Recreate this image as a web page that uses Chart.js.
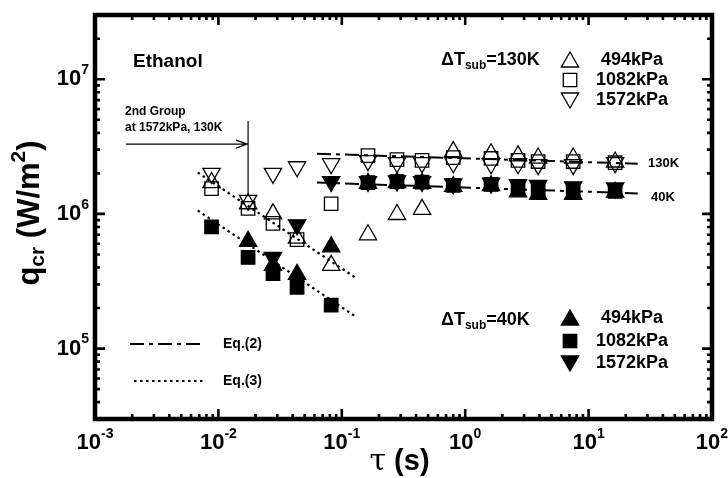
<!DOCTYPE html>
<html>
<head>
<meta charset="utf-8">
<script src="https://cdn.jsdelivr.net/npm/chart.js@4/dist/chart.umd.min.js"></script>
<style>
  html, body { margin: 0; padding: 0; background: #fff; }
  #wrap { width: 728px; height: 478px; }
</style>
</head>
<body>
<div id="wrap"><canvas id="c" width="728" height="478"></canvas></div>
<script>
// Heating period tau (s) for each measurement group
const tau = [0.0088, 0.0174, 0.0277, 0.0434, 0.082, 0.163, 0.28, 0.447, 0.80, 1.62, 2.68, 3.9, 7.5, 16.4];

// Critical heat flux q_cr (W/m^2), subcooling 130 K
const q130_494  = [1.71e6, 1.19e6, 1.00e6, 6.6e5, 4.15e5, 7.0e5, 9.9e5, 1.08e6, 2.9e6, 2.8e6, 2.7e6, 2.6e6, 2.6e6, 2.43e6];
const q130_1082 = [1.54e6, 1.10e6, 8.5e5, 6.45e5, 1.19e6, 2.71e6, 2.53e6, 2.5e6, 2.62e6, 2.58e6, 2.5e6, 2.45e6, 2.45e6, 2.4e6];
const q130_1572 = [2.0e6, 1.26e6, 2.0e6, 2.24e6, 2.36e6, 2.49e6, 2.4e6, 2.4e6, 2.4e6, 2.36e6, 2.36e6, 2.32e6, 2.32e6, 2.4e6];

// Critical heat flux q_cr (W/m^2), subcooling 40 K
const q40_494  = [null, 6.25e5, 4.15e5, 3.56e5, 5.7e5, 1.69e6, 1.71e6, 1.69e6, 1.60e6, 1.62e6, 1.46e6, 1.40e6, 1.40e6, 1.45e6];
const q40_1082 = [8.0e5, 4.75e5, 3.6e5, 2.85e5, 2.1e5, 1.71e6, 1.74e6, 1.72e6, 1.63e6, 1.66e6, 1.55e6, 1.48e6, 1.45e6, 1.47e6];
const q40_1572 = [null, null, 4.75e5, 8.3e5, 1.74e6, 1.74e6, 1.76e6, 1.74e6, 1.67e6, 1.69e6, 1.65e6, 1.63e6, 1.59e6, 1.56e6];

// Correlation lines: Eq.(2) long-period plateaus, Eq.(3) short-period decline
const eq2Tau   = [0.063, 25];
const eq2q130  = [2.8e6, 2.36e6];
const eq2q40   = [1.71e6, 1.42e6];
const eq3Tau   = [0.0068, 0.128];
const eq3qHigh = [2.03e6, 3.38e5];
const eq3qLow  = [1.06e6, 1.74e5];

// Axis limits and labelled decades
const xMin = 1e-3, xMax = 1e2;
const yMin = 3e4,  yMax = 3e7;
const xDecades = [-3, -2, -1, 0, 1, 2];
const yDecades = [5, 6, 7];

const FAM = '"Liberation Sans", Arial, Helvetica, sans-serif';
const f = (sz, w) => `${w || 'bold'} ${sz}px ${FAM}`;

const pts = (xs, ys) => xs.map((x, i) => ({ x, y: ys[i] })).filter(p => p.y !== null);

const OPEN = 'rgba(0,0,0,0)';
const markerStyles = {
  up:   { pointStyle: 'triangle', rotation: 0,   radius: 10 },
  down: { pointStyle: 'triangle', rotation: 180, radius: 10 },
  sq:   { pointStyle: 'rect',     rotation: 0,   radius: 9.5 }
};

function markerSet(label, data, kind, filled) {
  const m = markerStyles[kind];
  return {
    label, data,
    showLine: false,
    pointStyle: m.pointStyle,
    pointRotation: m.rotation,
    pointRadius: m.radius,
    pointBackgroundColor: filled ? '#000' : OPEN,
    pointBorderColor: '#000',
    pointBorderWidth: 1.3
  };
}
function lineSet(label, data, dash, width) {
  return {
    label, data,
    showLine: true,
    pointRadius: 0,
    borderColor: '#000',
    borderWidth: width,
    borderDash: dash,
    fill: false
  };
}

const DASHDOT = [14, 5, 4, 5];
const DOTTED = [2.5, 3.5];

const datasets = [
  markerSet('130K 494kPa',  pts(tau, q130_494),  'up',   false),
  markerSet('130K 1082kPa', pts(tau, q130_1082), 'sq',   false),
  markerSet('130K 1572kPa', pts(tau, q130_1572), 'down', false),
  markerSet('40K 1082kPa',  pts(tau, q40_1082),  'sq',   true),
  markerSet('40K 494kPa',   pts(tau, q40_494),   'up',   true),
  markerSet('40K 1572kPa',  pts(tau, q40_1572),  'down', true),
  lineSet('Eq.(2) 130K', pts(eq2Tau, eq2q130), DASHDOT, 2),
  lineSet('Eq.(2) 40K',  pts(eq2Tau, eq2q40),  DASHDOT, 2),
  lineSet('Eq.(3) high', pts(eq3Tau, eq3qHigh), DOTTED, 2.2),
  lineSet('Eq.(3) low',  pts(eq3Tau, eq3qLow),  DOTTED, 2.2)
];

// Text made of runs: {t, font, dy}
function runsWidth(ctx, runs) {
  let w = 0;
  for (const r of runs) { ctx.font = r.font; w += ctx.measureText(r.t).width; }
  return w;
}
function drawRuns(ctx, runs, x, y) {
  let cx = x;
  for (const r of runs) {
    ctx.font = r.font;
    ctx.fillText(r.t, cx, y + (r.dy || 0));
    cx += ctx.measureText(r.t).width;
  }
  return cx;
}
function powRuns(e) {
  return [{ t: '10', font: f(22) }, { t: String(e), font: f(14), dy: -9 }];
}

function marker(ctx, kind, filled, x, y) {
  const m = markerStyles[kind];
  ctx.save();
  ctx.fillStyle = filled ? '#000' : OPEN;
  ctx.strokeStyle = '#000';
  ctx.lineWidth = 1.3;
  Chart.helpers.drawPoint(ctx, { pointStyle: m.pointStyle, rotation: m.rotation, radius: m.radius, borderWidth: 1.3 }, x, y);
  ctx.restore();
}

const framePlugin = {
  id: 'frame',
  afterDraw(chart) {
    const { ctx, chartArea: a, scales: { x: sx, y: sy } } = chart;
    ctx.save();
    ctx.strokeStyle = '#000';
    ctx.fillStyle = '#000';

    // inward ticks on all four sides
    ctx.lineWidth = 2.6;
    ctx.lineCap = 'butt';
    for (let d = -3; d <= 2; d++) {
      for (let m = 1; m <= 9; m++) {
        const v = m * Math.pow(10, d);
        if (v < xMin * 0.999 || v > xMax * 1.001) continue;
        const px = sx.getPixelForValue(v);
        const len = m === 1 ? 10 : 5;
        ctx.beginPath();
        ctx.moveTo(px, a.bottom); ctx.lineTo(px, a.bottom - len);
        ctx.moveTo(px, a.top);    ctx.lineTo(px, a.top + len);
        ctx.stroke();
      }
    }
    for (let d = 4; d <= 7; d++) {
      for (let m = 1; m <= 9; m++) {
        const v = m * Math.pow(10, d);
        if (v < yMin * 0.999 || v > yMax * 1.001) continue;
        const py = sy.getPixelForValue(v);
        const len = m === 1 ? 10 : 5;
        ctx.beginPath();
        ctx.moveTo(a.left, py);  ctx.lineTo(a.left + len, py);
        ctx.moveTo(a.right, py); ctx.lineTo(a.right - len, py);
        ctx.stroke();
      }
    }

    // frame
    ctx.lineWidth = 4.5;
    ctx.strokeRect(a.left, a.top, a.right - a.left, a.bottom - a.top);

    // tick labels
    ctx.textBaseline = 'middle';
    ctx.textAlign = 'left';
    for (const e of xDecades) {
      const px = sx.getPixelForValue(Math.pow(10, e));
      const runs = powRuns(e);
      const w = runsWidth(ctx, runs);
      drawRuns(ctx, runs, px - w / 2, a.bottom + 24);
    }
    for (const e of yDecades) {
      const py = sy.getPixelForValue(Math.pow(10, e));
      const runs = powRuns(e);
      const w = runsWidth(ctx, runs);
      drawRuns(ctx, runs, a.left - 6 - w, py);
    }

    // axis titles
    const xt = [
      { t: '\u03C4', font: `normal 30px "DejaVu Serif", "Liberation Serif", serif` },
      { t: ' (s)', font: f(29) }
    ];
    const xw = runsWidth(ctx, xt);
    drawRuns(ctx, xt, (a.left + a.right) / 2 - xw / 2 - 4, 462);

    ctx.save();
    ctx.translate(30, (a.top + a.bottom) / 2 - 4);
    ctx.rotate(-Math.PI / 2);
    const yt = [
      { t: 'q', font: f(31) },
      { t: 'cr', font: f(21), dy: 8 },
      { t: ' (W/m', font: f(31) },
      { t: '2', font: f(21), dy: -11 },
      { t: ')', font: f(31) }
    ];
    const yw = runsWidth(ctx, yt);
    drawRuns(ctx, yt, -yw / 2, 0);
    ctx.restore();

    // fluid name
    ctx.font = f(19);
    ctx.fillText('Ethanol', 133, 62);

    // subcooling legend blocks
    const blocks = [
      { dt: '=130K', ty: 60, filled: false, rows: [['up', '494kPa', 60], ['sq', '1082kPa', 80], ['down', '1572kPa', 100]] },
      { dt: '=40K',  ty: 320, filled: true, rows: [['up', '494kPa', 318], ['sq', '1082kPa', 341], ['down', '1572kPa', 363]] }
    ];
    for (const b of blocks) {
      drawRuns(ctx, [
        { t: '\u0394T', font: f(18) },
        { t: 'sub', font: f(12), dy: 6 },
        { t: b.dt, font: f(18) }
      ], 441, b.ty);
      for (const [k, lab, yy] of b.rows) {
        marker(ctx, k, b.filled, 570, yy + (k === 'up' ? 2 : k === 'down' ? -2 : 0));
        ctx.font = f(18);
        ctx.textAlign = 'center';
        ctx.fillText(lab, 632, yy);
        ctx.textAlign = 'left';
      }
    }

    // labels at the plateau line ends
    ctx.font = f(13);
    ctx.fillText('130K', 648, 163);
    ctx.fillText('40K', 651, 197);

    // line-style key
    ctx.lineWidth = 2;
    ctx.setLineDash(DASHDOT);
    ctx.beginPath(); ctx.moveTo(130, 344); ctx.lineTo(203, 344); ctx.stroke();
    ctx.lineWidth = 2.2;
    ctx.setLineDash(DOTTED);
    ctx.beginPath(); ctx.moveTo(134, 381); ctx.lineTo(203, 381); ctx.stroke();
    ctx.setLineDash([]);
    ctx.font = f(14);
    ctx.fillText('Eq.(2)', 223, 344);
    ctx.fillText('Eq.(3)', 223, 381);

    // pointer to the second group of the 1572 kPa / 130 K run
    const gx = sx.getPixelForValue(tau[1]);
    const gy = sy.getPixelForValue(q130_1572[1]);
    const ay = sy.getPixelForValue(3.3e6);
    ctx.lineWidth = 1.2;
    ctx.beginPath();
    ctx.moveTo(sx.getPixelForValue(1.78e-3), ay); ctx.lineTo(gx - 1, ay);
    ctx.moveTo(gx - 12, ay - 4); ctx.lineTo(gx - 1, ay); ctx.lineTo(gx - 12, ay + 4);
    ctx.moveTo(gx, sy.getPixelForValue(4.9e6)); ctx.lineTo(gx, gy - 5);
    ctx.stroke();
    ctx.font = f(12);
    ctx.fillText('2nd Group', 125, 112);
    ctx.fillText('at 1572kPa, 130K', 125, 128);

    ctx.restore();
  }
};

new Chart(document.getElementById('c'), {
  type: 'scatter',
  data: { datasets },
  options: {
    responsive: false,
    animation: false,
    events: [],
    devicePixelRatio: 1,
    layout: { padding: { left: 95, top: 15, right: 16, bottom: 59 } },
    plugins: { legend: { display: false }, tooltip: { enabled: false } },
    scales: {
      x: { type: 'logarithmic', min: xMin, max: xMax, display: false },
      y: { type: 'logarithmic', min: yMin, max: yMax, display: false }
    }
  },
  plugins: [framePlugin]
});
</script>
</body>
</html>
